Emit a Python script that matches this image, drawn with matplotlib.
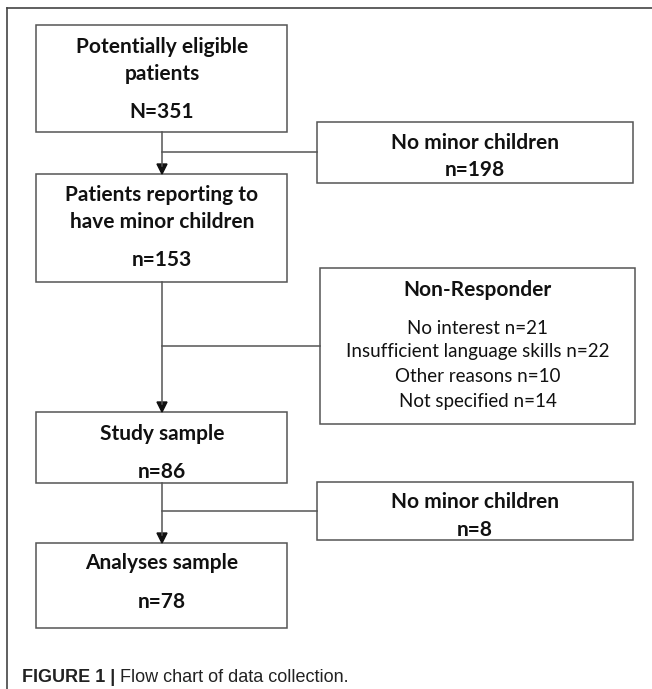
import matplotlib.pyplot as plt
from matplotlib.patches import Rectangle, Polygon

# box texts (bold title lines, then count / reasons)
main_titles = [["Potentially eligible", "patients"],
               ["Patients reporting to", "have minor children"],
               ["Study sample"],
               ["Analyses sample"]]
main_counts = ["N=351", "n=153", "n=86", "n=78"]

side_titles = ["No minor children", "Non-Responder", "No minor children"]
side_counts = [["n=198"],
               ["No interest n=21", "Insufficient language skills n=22",
                "Other reasons n=10", "Not specified n=14"],
               ["n=8"]]

caption_bold = "FIGURE 1 |"
caption_text = " Flow chart of data collection."

W, H = 652, 689
fig = plt.figure(figsize=(W / 100, H / 100), dpi=100)
ax = fig.add_axes([0, 0, 1, 1])
ax.set_xlim(0, W)
ax.set_ylim(H, 0)
ax.axis('off')

lc = '#555555'
box_font = ['Lato', 'DejaVu Sans']
fs_b = 15
fs_r = 13.5

# outer frame (top and left only)
ax.plot([7, W], [8, 8], color='#444444', lw=1.2)
ax.plot([7, 7], [8, H], color='#444444', lw=1.2)

# main column boxes: (top, bottom) and y of text lines
cx = 162
main_boxes = [(25, 132), (174, 282), (412, 483), (543, 628)]
main_title_y = [[47, 74], [195, 222], [434], [563]]
main_count_y = [112, 260, 472, 602]
bx0, bx1 = 36, 287

for (t, b), titles, tys, cnt, cy in zip(main_boxes, main_titles, main_title_y,
                                         main_counts, main_count_y):
    ax.add_patch(Rectangle((bx0, t), bx1 - bx0, b - t, fill=False,
                           edgecolor=lc, lw=1.1))
    for s, y in zip(titles, tys):
        ax.text(cx, y, s, ha='center', va='center', fontsize=fs_b,
                fontweight='bold', family=box_font, color='#111111')
    ax.text(cx, cy, cnt, ha='center', va='center', fontsize=fs_b,
            fontweight='bold', family=box_font, color='#111111')

# side boxes
side_boxes = [(317, 633, 122, 183), (320, 635, 268, 424), (317, 633, 482, 540)]
side_title_y = [143, 290, 502]
side_count_y = [[170], [328, 352, 377, 401], [530]]
branch_y = [152, 346, 511]

for i, ((x0, x1, t, b), title, ty, cnts, cys) in enumerate(
        zip(side_boxes, side_titles, side_title_y, side_counts, side_count_y)):
    ax.add_patch(Rectangle((x0, t), x1 - x0, b - t, fill=False,
                           edgecolor=lc, lw=1.1))
    mx = (x0 + x1) / 2
    ax.text(mx, ty, title, ha='center', va='center', fontsize=fs_b,
            fontweight='bold', family=box_font, color='#111111')
    bold = i != 1
    for s, y in zip(cnts, cys):
        ax.text(mx, y, s, ha='center', va='center',
                fontsize=fs_b if bold else fs_r,
                fontweight='bold' if bold else 'normal', family=box_font,
                color='#111111')
    # horizontal branch
    ax.plot([cx, x0], [branch_y[i], branch_y[i]], color=lc, lw=1.1)

# vertical connectors with arrow heads
for k in range(3):
    y0 = main_boxes[k][1]
    y1 = main_boxes[k + 1][0]
    ax.plot([cx, cx], [y0, y1 - 8], color=lc, lw=1.1)
    ax.add_patch(Polygon([[cx - 5, y1 - 10], [cx + 5, y1 - 10], [cx, y1]],
                         closed=True, color='#111111'))

# caption
cap_font = ['Liberation Sans Narrow', 'Liberation Sans', 'DejaVu Sans']
t1 = ax.text(22, 677, caption_bold, ha='left', va='center', fontsize=13,
             fontweight='bold', family=cap_font, color='#222222')
fig.canvas.draw()
bb = t1.get_window_extent()
x_next = ax.transData.inverted().transform((bb.x1, bb.y0))[0]
ax.text(x_next, 677, caption_text, ha='left', va='center', fontsize=13,
        family=cap_font, color='#222222')

fig.savefig('out.png', dpi=100)
